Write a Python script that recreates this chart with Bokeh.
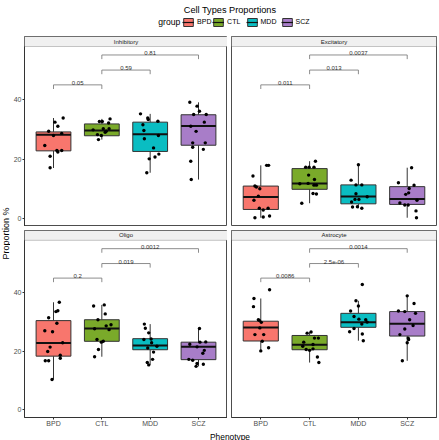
import math
from bokeh.plotting import figure
from bokeh.layouts import row, column
from bokeh.models import (Range1d, FixedTicker, ColumnDataSource, BoxAnnotation,
                          Label, Legend, LegendItem)
from bokeh.embed import file_html
from bokeh.resources import INLINE
from bokeh.core.properties import value

# ---------------- data ----------------
groups = ["BPD", "CTL", "MDD", "SCZ"]
group_colors = ["#F8766D", "#7AAA2A", "#0ABDC2", "#A87DC8"]
cell_types = ["Inhibitory", "Excitatory", "Oligo", "Astrocyte"]
y_ticks = [0, 20, 40]
y_limits = [0, 55.3]

# box statistics (order: BPD, CTL, MDD, SCZ)
inh_low = [17.0, 26.6, 15.4, 13.1]
inh_q1 = [22.8, 27.9, 22.6, 24.7]
inh_med = [28.2, 29.7, 28.4, 31.2]
inh_q3 = [29.2, 31.9, 32.5, 35.0]
inh_high = [33.9, 33.6, 35.3, 39.2]

exc_low = [0.2, 5.1, 3.4, 0.2]
exc_q1 = [3.0, 9.8, 4.9, 4.7]
exc_med = [7.2, 11.8, 7.4, 6.5]
exc_q3 = [10.9, 16.8, 11.3, 10.7]
exc_high = [17.9, 19.3, 18.1, 17.1]

oli_low = [10.3, 18.1, 15.3, 14.8]
oli_q1 = [18.3, 23.4, 20.5, 17.1]
oli_med = [22.8, 27.8, 22.0, 21.5]
oli_q3 = [30.5, 30.8, 24.3, 23.1]
oli_high = [36.8, 35.9, 29.3, 27.8]

ast_low = [20.1, 16.1, 23.6, 16.7]
ast_q1 = [23.5, 20.5, 28.2, 25.2]
ast_med = [28.1, 22.2, 29.9, 29.4]
ast_q3 = [30.3, 25.4, 33.0, 33.6]
ast_high = [38.1, 26.6, 37.3, 39.0]

# individual samples (values) and their horizontal jitter (category units)
inh_bpd = [33.9, 32.5, 31.1, 29.4, 28.7, 28.0, 24.6, 21.0, 22.9, 22.9, 17.1, 22.4]
inh_bpd_jit = [0.2, 0.03, 0.09, -0.1, 0.17, 0.0, -0.18, -0.07, 0.07, 0.17, -0.07, 0.09]
inh_ctl = [32.7, 32.7, 33.6, 32.2, 30.3, 30.3, 29.9, 29.4, 28.0, 26.6, 29.1, 28.3]
inh_ctl_jit = [-0.05, 0.01, 0.17, 0.14, 0.03, 0.15, -0.18, 0.09, -0.01, -0.07, 0.07, -0.09]
inh_mdd = [35.3, 33.9, 32.8, 31.6, 28.0, 29.7, 26.9, 23.8, 20.1, 20.7, 21.7, 15.4, 33.4]
inh_mdd_jit = [-0.2, -0.05, 0.16, -0.15, 0.17, -0.13, -0.12, 0.07, -0.02, 0.1, 0.18, -0.07, -0.04]
inh_scz = [39.2, 37.9, 36.2, 35.1, 35.1, 32.5, 31.1, 29.4, 25.5, 25.5, 24.0, 23.3, 19.3, 13.1]
inh_scz_jit = [-0.18, -0.03, 0.02, -0.1, 0.16, 0.12, -0.16, -0.05, 0.14, -0.12, -0.12, 0.1, -0.16, -0.15]

exc_bpd = [0.2, 0.45, 0.8, 14.3, 10.9, 10.6, 10.0, 6.1, 7.5, 3.4, 2.8, 3.4, 17.9, 17.9]
exc_bpd_jit = [-0.12, 0.05, 0.18, -0.16, -0.12, -0.09, -0.02, -0.14, -0.05, -0.03, 0.05, 0.15, 0.12, 0.16]
exc_ctl = [17.3, 17.3, 17.3, 19.3, 14.6, 13.1, 11.7, 11.2, 11.2, 5.1, 8.4, 8.2, 11.8]
exc_ctl_jit = [-0.08, -0.01, 0.09, 0.12, -0.02, 0.1, -0.2, 0.09, 0.14, -0.16, 0.07, 0.14, -0.03]
exc_mdd = [18.1, 12.9, 11.3, 11.3, 5.5, 8.3, 6.4, 6.4, 3.9, 3.4, 3.8, 7.3]
exc_mdd_jit = [0.0, -0.15, -0.05, 0.07, -0.14, -0.05, 0.01, -0.07, -0.02, 0.07, -0.12, 0.18]
exc_scz = [17.1, 12.0, 10.1, 11.2, 8.1, 8.6, 5.2, 4.5, 4.5, 6.1, 2.5, 0.2]
exc_scz_jit = [0.09, -0.18, 0.04, 0.14, -0.03, 0.03, -0.15, -0.05, 0.02, 0.2, 0.18, 0.19]

oli_bpd = [36.8, 33.9, 33.6, 31.5, 29.6, 27.0, 26.7, 21.4, 22.9, 19.9, 18.6, 17.6, 16.7, 16.7, 10.3]
oli_bpd_jit = [0.12, 0.09, 0.05, -0.1, 0.07, -0.18, -0.02, -0.07, 0.19, -0.12, 0.14, 0.14, -0.17, -0.1, -0.03]
oli_ctl = [35.5, 35.9, 30.8, 32.8, 27.7, 28.7, 27.4, 29.1, 24.0, 23.1, 23.4, 20.6, 18.1]
oli_ctl_jit = [-0.17, 0.05, -0.08, 0.07, -0.15, 0.09, 0.15, 0.19, -0.1, -0.01, 0.03, -0.07, -0.15]
oli_mdd = [29.3, 27.9, 26.3, 24.0, 24.2, 21.1, 21.7, 22.9, 19.7, 17.2, 16.1, 15.3]
oli_mdd_jit = [-0.12, -0.1, -0.03, -0.13, 0.02, -0.05, 0.14, 0.03, 0.07, 0.05, -0.06, -0.03]
oli_scz = [27.8, 22.4, 23.1, 23.2, 21.5, 20.3, 19.3, 17.2, 16.9, 15.8, 15.5, 14.8]
oli_scz_jit = [0.02, -0.18, 0.03, 0.15, -0.03, 0.12, 0.09, -0.2, -0.12, -0.03, 0.1, -0.05]

ast_bpd = [41.1, 38.1, 35.3, 30.8, 29.9, 28.0, 25.7, 25.7, 23.4, 21.2, 20.1, 30.6]
ast_bpd_jit = [0.18, -0.14, -0.15, -0.05, 0.01, -0.02, -0.12, 0.06, 0.03, 0.16, 0.0, -0.03]
ast_ctl = [26.6, 26.2, 24.5, 24.5, 21.7, 22.3, 20.6, 20.3, 20.8, 18.0, 16.1, 23.1]
ast_ctl_jit = [0.03, -0.05, 0.1, 0.18, -0.14, 0.07, -0.07, 0.0, 0.07, 0.16, 0.19, -0.12]
ast_mdd = [42.9, 37.3, 35.5, 33.8, 31.9, 31.0, 30.8, 30.0, 29.3, 27.8, 26.7, 25.9, 23.6]
ast_mdd_jit = [0.08, -0.05, 0.0, -0.16, -0.09, 0.01, 0.15, 0.18, 0.07, -0.09, -0.18, 0.08, 0.1]
ast_scz = [39.0, 36.4, 33.8, 33.6, 33.0, 30.8, 28.8, 27.6, 25.7, 24.5, 22.9, 16.7, 24.0]
ast_scz_jit = [0.0, 0.14, -0.18, -0.05, 0.17, 0.05, 0.12, -0.05, -0.15, 0.02, 0.0, -0.1, 0.03]

# significance brackets
comparisons = [("BPD", "CTL"), ("CTL", "MDD"), ("CTL", "SCZ")]
bracket_y = [45.1, 50.1, 55.2]
inh_p = ["0.05", "0.59", "0.81"]
exc_p = ["0.011", "0.013", "0.0037"]
oli_p = ["0.2", "0.019", "0.0012"]
ast_p = ["0.0086", "2.5e-06", "0.0014"]

# ---------------- style ----------------
FONT = "Liberation Sans"
BORDER = "#4D4D4D"
AXIS = "#333333"
BOXLINE = "#333333"
STRIP_FILL = "#F0F0F0"
BRACKET = "#707070"
PANEL_PX = 180
BOX_W = 0.72
LEG = 1.4

pad = 0.05 * (y_limits[1] - y_limits[0])
y_lo = y_limits[0] - pad
y_hi = y_limits[1] + pad
upp = (y_hi - y_lo) / PANEL_PX
xs = [i + 1 for i in range(len(groups))]


def make_panel(title, stats, samples, jitters, pvals, width, height, strip_px,
               left, right, top, bottom, yaxis, xaxis):
    low, q1, med, q3, high = stats
    frame_top = y_hi + strip_px * upp
    p = figure(width=width, height=height, output_backend="svg", toolbar_location=None,
               x_range=Range1d(0.4, 4.6), y_range=Range1d(y_lo, frame_top),
               x_axis_location="below" if xaxis else None,
               y_axis_location="left" if yaxis else None,
               min_border_left=left, min_border_right=right,
               min_border_top=top, min_border_bottom=bottom)
    p.grid.visible = False
    p.outline_line_color = BORDER
    p.outline_line_width = 1
    p.background_fill_color = "white"
    p.border_fill_color = "white"

    src = ColumnDataSource(dict(x=xs, low=low, q1=q1, med=med, q3=q3, high=high,
                                color=group_colors,
                                left=[x - BOX_W / 2 for x in xs],
                                right=[x + BOX_W / 2 for x in xs]))
    p.segment(x0="x", y0="q3", x1="x", y1="high", source=src, line_color=BOXLINE, line_width=1)
    p.segment(x0="x", y0="low", x1="x", y1="q1", source=src, line_color=BOXLINE, line_width=1)
    p.vbar(x="x", width=BOX_W, top="q3", bottom="q1", source=src,
           fill_color="color", line_color=BOXLINE, line_width=1)
    p.segment(x0="left", y0="med", x1="right", y1="med", source=src,
              line_color="#111111", line_width=2)

    for i, (vals, jit) in enumerate(zip(samples, jitters)):
        p.scatter(x=[xs[i] + j for j in jit], y=vals, size=3.4,
                  fill_color="black", line_color="black", line_width=0)

    bx0 = [groups.index(a) + 1 for a, b in comparisons]
    bx1 = [groups.index(b) + 1 for a, b in comparisons]
    p.segment(x0=bx0, y0=bracket_y, x1=bx1, y1=bracket_y, line_color=BRACKET, line_width=0.8)
    p.segment(x0=bx0, y0=bracket_y, x1=bx0, y1=[y - LEG for y in bracket_y],
              line_color=BRACKET, line_width=0.8)
    p.segment(x0=bx1, y0=bracket_y, x1=bx1, y1=[y - LEG for y in bracket_y],
              line_color=BRACKET, line_width=0.8)
    p.text(x=[(a + b) / 2 for a, b in zip(bx0, bx1)], y=[y + 0.55 for y in bracket_y],
           text=pvals, text_align="center", text_baseline="alphabetic",
           text_font_size=value("6px"), text_font=value(FONT), text_color="#333333")

    strip = BoxAnnotation(bottom=y_hi, fill_color=STRIP_FILL, fill_alpha=1,
                          line_color=BORDER, line_width=1)
    p.add_layout(strip)
    p.add_layout(Label(x=2.5, y=y_hi + strip_px * upp / 2, text=title,
                       text_align="center", text_baseline="middle",
                       text_font_size="6px", text_font=FONT, text_color="#1A1A1A"))

    if yaxis:
        ax = p.yaxis[0]
        ax.ticker = FixedTicker(ticks=y_ticks)
        ax.bounds = (y_lo, y_hi)
        ax.axis_line_color = AXIS
        ax.major_tick_line_color = AXIS
        ax.major_tick_out = 2
        ax.major_tick_in = 0
        ax.minor_tick_line_color = None
        ax.major_label_standoff = 1
        ax.major_label_text_font_size = "7px"
        ax.major_label_text_font = FONT
        ax.major_label_text_color = "#4D4D4D"
    if xaxis:
        ax = p.xaxis[0]
        ax.ticker = FixedTicker(ticks=xs)
        ax.major_label_overrides = {x: g for x, g in zip(xs, groups)}
        ax.axis_line_color = AXIS
        ax.major_tick_line_color = AXIS
        ax.major_tick_out = 2
        ax.major_tick_in = 0
        ax.minor_tick_line_color = None
        ax.major_label_standoff = 0
        ax.major_label_text_font_size = "7px"
        ax.major_label_text_font = FONT
        ax.major_label_text_color = "#4D4D4D"
    return p


inh_stats = (inh_low, inh_q1, inh_med, inh_q3, inh_high)
exc_stats = (exc_low, exc_q1, exc_med, exc_q3, exc_high)
oli_stats = (oli_low, oli_q1, oli_med, oli_q3, oli_high)
ast_stats = (ast_low, ast_q1, ast_med, ast_q3, ast_high)

tl = make_panel(cell_types[0], inh_stats, [inh_bpd, inh_ctl, inh_mdd, inh_scz],
                [inh_bpd_jit, inh_ctl_jit, inh_mdd_jit, inh_scz_jit], inh_p,
                217, 190, 10, 11, 0, 0, 0, True, False)
tr = make_panel(cell_types[1], exc_stats, [exc_bpd, exc_ctl, exc_mdd, exc_scz],
                [exc_bpd_jit, exc_ctl_jit, exc_mdd_jit, exc_scz_jit], exc_p,
                212, 190, 10, 4, 3, 0, 0, False, False)
bl = make_panel(cell_types[2], oli_stats, [oli_bpd, oli_ctl, oli_mdd, oli_scz],
                [oli_bpd_jit, oli_ctl_jit, oli_mdd_jit, oli_scz_jit], oli_p,
                217, 203, 10, 11, 0, 4, 9, True, True)
br = make_panel(cell_types[3], ast_stats, [ast_bpd, ast_ctl, ast_mdd, ast_scz],
                [ast_bpd_jit, ast_ctl_jit, ast_mdd_jit, ast_scz_jit], ast_p,
                212, 203, 10, 4, 3, 4, 9, False, True)

# ---------------- header: title + legend ----------------
HDR_H = 36
hdr = figure(width=439, height=HDR_H, x_range=Range1d(0, 439), y_range=Range1d(0, HDR_H),
             x_axis_type=None, y_axis_type=None, min_border=0,
             output_backend="svg", toolbar_location=None)
hdr.outline_line_color = None
hdr.add_layout(Label(x=229.5, y=HDR_H - 9.3, text="Cell Types Proportions", text_align="center",
                     text_baseline="alphabetic", text_font_size="9.2px", text_font=FONT,
                     text_color="black"))
hdr.add_layout(Label(x=157.8, y=HDR_H - 21.7, text="group", text_align="left",
                     text_baseline="middle", text_font_size="8.6px", text_font=FONT,
                     text_color="black"))
key_x = [182.1, 212.1, 245.5, 280.5]
for i, g in enumerate(groups):
    rq = hdr.quad(left=[-30], right=[-20], top=[-20], bottom=[-30],
                  fill_color=group_colors[i], line_color=BOXLINE, line_width=1)
    rs = hdr.segment(x0=[-30], y0=[-25], x1=[-20], y1=[-25], line_color="#111111", line_width=1.2)
    leg = Legend(items=[LegendItem(label=g, renderers=[rq, rs])],
                 location=(key_x[i], HDR_H - 21.7 - 5),
                 orientation="horizontal", glyph_width=12, glyph_height=10,
                 label_standoff=3, padding=0, margin=0, spacing=0,
                 border_line_color=None, background_fill_alpha=0,
                 label_text_font_size="7px", label_text_font=FONT, label_text_color="black",
                 label_height=10, label_width=0)
    hdr.add_layout(leg)

# ---------------- axis titles ----------------
ylab = figure(width=10, height=404, x_range=Range1d(0, 10), y_range=Range1d(0, 404),
              x_axis_type=None, y_axis_type=None, min_border=0,
              output_backend="svg", toolbar_location=None)
ylab.outline_line_color = None
ylab.add_layout(Label(x=5, y=404 - (233 - HDR_H), text="Proportion %", angle=math.pi / 2,
                      text_align="center", text_baseline="middle",
                      text_font_size="9px", text_font=FONT, text_color="black"))

XLAB_H = 11
xlab = figure(width=429, height=XLAB_H, x_range=Range1d(0, 429), y_range=Range1d(0, XLAB_H),
              x_axis_type=None, y_axis_type=None, min_border=0,
              output_backend="svg", toolbar_location=None)
xlab.outline_line_color = None
xlab.add_layout(Label(x=229.5 - 10, y=5, text="Phenotype", text_align="center",
                      text_baseline="middle", text_font_size="8.4px", text_font=FONT,
                      text_color="black"))

layout = column(hdr, row(ylab, column(row(tl, tr), row(bl, br), xlab)))

open("out.html", "w").write(file_html(layout, INLINE))
